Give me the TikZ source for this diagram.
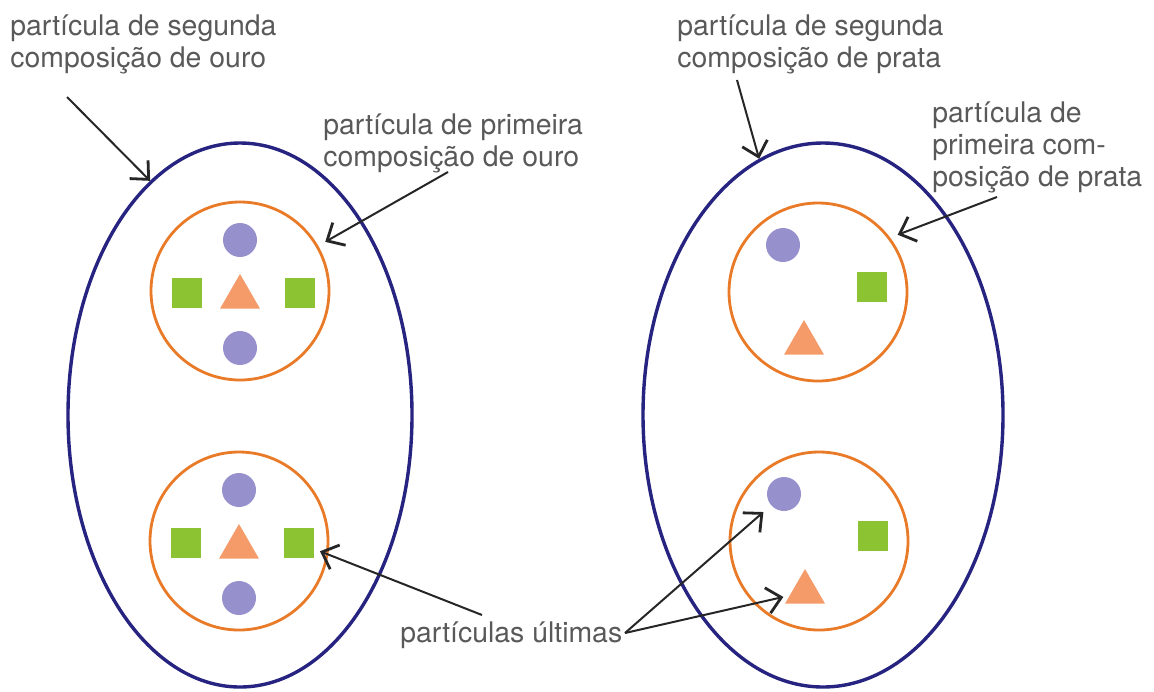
\documentclass[tikz,border=0pt]{standalone}
\usepackage{fontspec}
\setmainfont{TeX Gyre Heros}
\usetikzlibrary{shapes.geometric,arrows.meta}
\definecolor{navy}{RGB}{38,36,128}
\definecolor{ringc}{RGB}{232,122,40}
\definecolor{beadc}{RGB}{150,145,205}
\definecolor{grn}{RGB}{140,195,50}
\definecolor{tric}{RGB}{245,155,105}
\tikzset{
  lbl/.style={anchor=north west,inner sep=0pt,align=left,text=black!65,
    font=\fontsize{14.2}{16}\selectfont},
  arr/.style={-{Straight Barb[length=7pt,width=13pt,line width=1.4pt]},line width=1pt,black!85},
  shell/.style={ellipse,draw=navy,line width=1.7pt,minimum width=172pt,
    minimum height=272pt,inner sep=0pt},
  ring/.style={circle,draw=ringc,line width=1.4pt,minimum size=89pt,inner sep=0pt},
  bead/.style={circle,fill=beadc,minimum size=17pt,inner sep=0pt},
  sq/.style={fill=grn,minimum size=15pt,inner sep=0pt},
  tri/.style={regular polygon,regular polygon sides=3,fill=tric,minimum size=23pt,inner sep=0pt},
}
\begin{document}
\begin{tikzpicture}[x=0.5pt,y=-0.5pt]
  \useasboundingbox (0,0) rectangle (1154,691);
  % outer particles
  \node[shell] (ouro) at (240,415) {};
  \node[shell,minimum width=180pt] (prata) at (823,415) {};
  % first composition
  \node[ring] (ouroA) at (240,291) {};
  \node[ring] (ouroB) at (239,541) {};
  \node[ring] (prataA) at (818,292) {};
  \node[ring] (prataB) at (819,541) {};
  % ultimate particles
  \foreach \r in {ouroA,ouroB}{
    \node[bead] (\r-d1) at ([shift={(0,-51)}]\r) {};
    \node[bead] (\r-d2) at ([shift={(0,57)}]\r) {};
    \node[tri] (\r-t) at ([shift={(0,6)}]\r) {};
    \node[sq] (\r-s1) at ([shift={(-53,2)}]\r) {};
    \node[sq] (\r-s2) at ([shift={(60,2)}]\r) {};
  }
  \foreach \r in {prataA,prataB}{
    \node[bead] (\r-d) at ([shift={(-35,-47)}]\r) {};
    \node[sq] (\r-s) at ([shift={(54,-5)}]\r) {};
    \node[tri] (\r-t) at ([shift={(-14,51)}]\r) {};
  }
  % labels
  \node[lbl] (lblOS) at (10,14) {partícula de segunda\\composição de ouro};
  \node[lbl] (lblOP) at (323,113) {partícula de primeira\\composição de ouro};
  \node[lbl] (lblPS) at (677,14) {partícula de segunda\\composição de prata};
  \node[lbl] (lblPP) at (932,101) {partícula de\\primeira com-\\posição de prata};
  \node[lbl] (lblU) at (400,621) {partículas últimas};
  % arrows
  \draw[arr] ([shift={(57,83)}]lblOS.north west) -- (ouro.111);
  \draw[arr,shorten >=4pt] ([shift={(125,59)}]lblOP.north west) -- (ouroA.30);
  \draw[arr] ([shift={(60,66)}]lblPS.north west) -- (prata.104);
  \draw[arr,shorten >=4pt] ([shift={(65,96)}]lblPP.north west) -- (prataA.37);
  \draw[arr,shorten >=3pt] ([shift={(82,-6)}]lblU.north west) -- (ouroB-s2);
  \draw[arr,shorten >=5pt] ([shift={(225,12)}]lblU.north west) -- (prataB-d);
  \draw[arr,shorten >=3pt] ([shift={(225,12)}]lblU.north west) -- (prataB-t);
\end{tikzpicture}
\end{document}
